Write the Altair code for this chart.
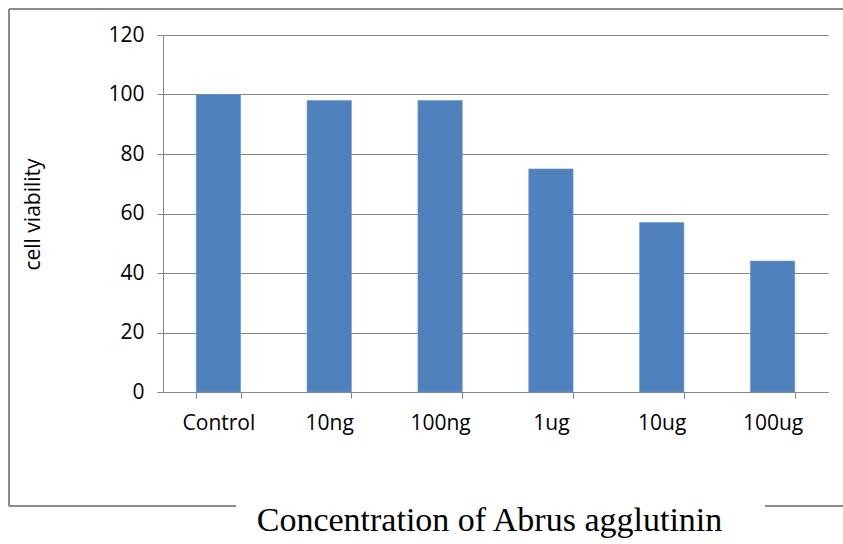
import altair as alt
import pandas as pd

categories = ["Control", "10ng", "100ng", "1ug", "10ug", "100ug"]
viability = [100, 98, 98, 75, 57, 44]
y_ticks = [0, 20, 40, 60, 80, 100, 120]

df = pd.DataFrame({"conc": categories, "viability": viability})

W, H = 665, 357
FRAME = "#8a8a8a"
LABEL_FONT = "Open Sans"

bars = alt.Chart(df).mark_bar(color="#4f81bd", stroke="#6f97c8", strokeWidth=0.6).encode(
    x=alt.X("conc:N", sort=categories,
            scale=alt.Scale(paddingInner=0.6, paddingOuter=0.3),
            axis=alt.Axis(title="Concentration of Abrus agglutinin", labelAngle=0,
                          labelFont=LABEL_FONT, labelFontSize=21, labelColor="black",
                          labelPadding=14, tickSize=6, tickColor="#868686",
                          domainColor="#868686", grid=False, tickBand="extent",
                          titleFont="Liberation Serif", titleFontSize=34,
                          titleFontWeight="normal", titleColor="black",
                          titlePadding=70, titleX=326)),
    y=alt.Y("viability:Q", scale=alt.Scale(domain=[0, 120], nice=False),
            axis=alt.Axis(title="cell viability", values=y_ticks,
                          labelFont=LABEL_FONT, labelFontSize=21, labelColor="black",
                          labelPadding=13, tickSize=6, tickColor="#868686",
                          domainColor="#868686", gridColor="#868686", grid=True,
                          titleFont=LABEL_FONT, titleFontSize=21, titleFontWeight="normal",
                          titleColor="black", titleX=-130, titleY=179,
                          titleAngle=270, titleAlign="center", titleBaseline="middle")),
)

frame_rows = pd.DataFrame({
    "x": [-154, -154, -154, 602],
    "x2": [-154, 700, 73, 700],
    "y": [-26, -26, 471, 471],
    "y2": [471, -26, 471, 471],
})
frame = alt.Chart(frame_rows).mark_rule(color=FRAME, strokeWidth=2).encode(
    x=alt.X("x:Q", scale=None), x2="x2:Q",
    y=alt.Y("y:Q", scale=None), y2="y2:Q",
)

chart = alt.layer(frame, bars).properties(
    width=W, height=H,
    autosize=alt.AutoSizeParams(type="none"),
    padding={"left": 163, "top": 35, "right": 15, "bottom": 152},
).configure_view(stroke=None).configure_axisY(domain=True)

chart.save("out.html", embed_options={"renderer": "svg", "actions": False})
